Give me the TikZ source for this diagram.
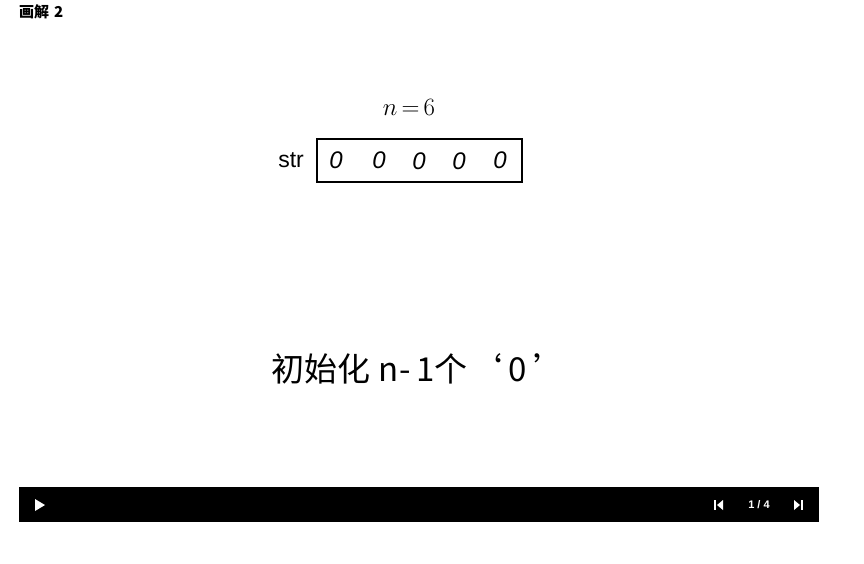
\documentclass[tikz,border=0pt]{standalone}
\usepackage{fontspec}
\setmainfont{Liberation Sans}
\newfontfamily\cjk{Noto Sans CJK SC}
\begin{document}
\begin{tikzpicture}[x=1pt,y=-1pt,
  hw/.style={font=\fontsize{26}{28}\selectfont, inner sep=0pt},
  zero/.style={font=\fontsize{24}{26}\selectfont\itshape, inner sep=0pt}]
\useasboundingbox (0,0) rectangle (864,563);
\fill[white] (0,0) rectangle (864,563);
% title
\node[anchor=west, inner sep=0pt, font=\cjk\bfseries\fontsize{15}{17}\selectfont] (title) at (19,12) {画解\hspace{5pt}\textbf{2}};
% n = 6
\node[hw] (n) at (409,107) {$n\,{=}\,6$};
% box
\node[draw, line width=1.2pt, minimum width=205pt, minimum height=43pt, inner sep=0pt] (box) at (419.5,160.5) {};
\node[anchor=east, inner sep=0pt, font=\fontsize{23}{25}\selectfont] (str) at (304,160) {str};
\node[zero] (z1) at (336,160) {0};
\node[zero] (z2) at (379,160) {0};
\node[zero] (z3) at (419,161) {0};
\node[zero] (z4) at (459,161) {0};
\node[zero] (z5) at (500,160) {0};
% caption
\node[inner sep=0pt, font=\cjk\fontsize{33}{35}\selectfont] (cap) at (419,369) {初始化\hspace{8pt}\textit{n}-\hspace{6pt}1个\hspace{2pt}‘\hspace{6pt}0\hspace{6pt}’};
% control bar
\node[fill=black, minimum width=800pt, minimum height=35pt, inner sep=0pt, anchor=north west] (bar) at (19,487) {};
\fill[white] (35,499) -- (45,505) -- (35,511) -- cycle;
\fill[white] (714,500) rectangle (716,510);
\fill[white] (723,500) -- (717,505) -- (723,510) -- cycle;
\node[text=white, inner sep=0pt, font=\bfseries\fontsize{11}{13}\selectfont] (page) at (759,505) {1 / 4};
\fill[white] (794,500) -- (800,505) -- (794,510) -- cycle;
\fill[white] (801,500) rectangle (803,510);
\end{tikzpicture}
\end{document}
